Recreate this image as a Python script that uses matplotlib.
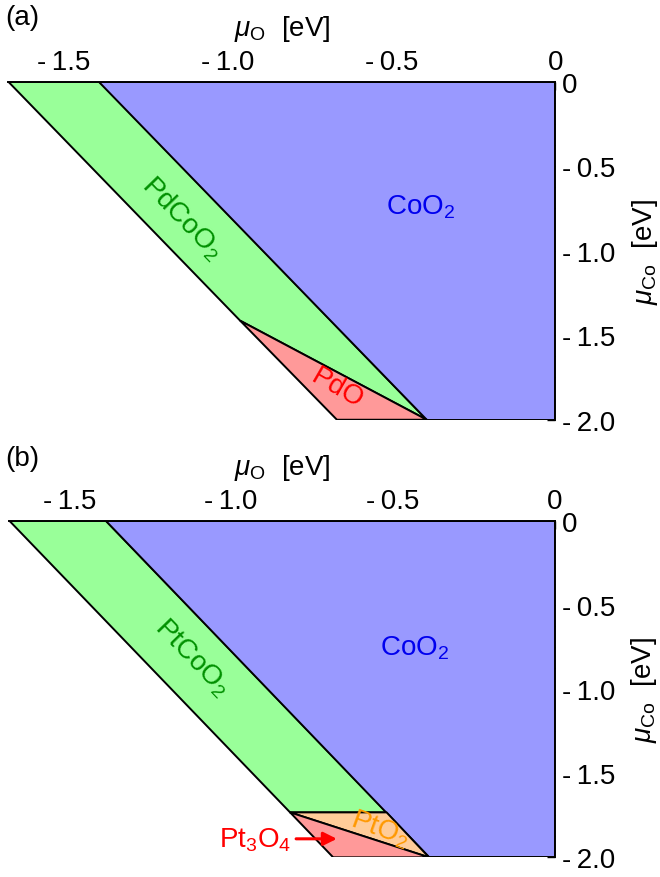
import matplotlib
matplotlib.use('Agg')
import matplotlib.pyplot as plt
from matplotlib.patches import Polygon
from matplotlib.ticker import MultipleLocator, FixedLocator

plt.rcParams['font.family'] = ['Liberation Sans', 'DejaVu Sans']
plt.rcParams['mathtext.fontset'] = 'custom'
plt.rcParams['mathtext.rm'] = 'Liberation Sans'
plt.rcParams['mathtext.it'] = 'Liberation Sans:italic'

GREEN = '#99ff99'
BLUE = '#9999ff'
RED = '#ff9999'
ORANGE = '#ffcc99'

# panel (a): Pd
a_xmin = -1.668
a_green_x = [-1.668, -1.39, -0.392, -0.961]
a_green_y = [0.0, 0.0, -2.0, -1.414]
a_blue_x = [-1.39, 0.0, 0.0, -0.392]
a_blue_y = [0.0, 0.0, -2.0, -2.0]
a_red_x = [-0.961, -0.392, -0.666]
a_red_y = [-1.414, -2.0, -2.0]

# panel (b): Pt
b_xmin = -1.685
b_green_x = [-1.685, -1.387, -0.520, -0.818]
b_green_y = [0.0, 0.0, -1.733, -1.733]
b_blue_x = [-1.387, 0.0, 0.0, -0.389]
b_blue_y = [0.0, 0.0, -2.0, -2.0]
b_orange_x = [-0.818, -0.520, -0.389]
b_orange_y = [-1.733, -1.733, -2.0]
b_red_x = [-0.818, -0.389, -0.685]
b_red_y = [-1.733, -2.0, -2.0]

x_ticks = [-1.5, -1.0, -0.5, 0.0]
x_labels = ['-\u20091.5', '-\u20091.0', '-\u20090.5', '0']
y_ticks = [0.0, -0.5, -1.0, -1.5, -2.0]
y_labels = ['0', '-\u20090.5', '-\u20091.0', '-\u20091.5', '-\u20092.0']

FS = 20


def poly(ax, xs, ys, color):
    ax.add_patch(Polygon(list(zip(xs, ys)), closed=True, facecolor=color,
                         edgecolor='black', lw=1.4, zorder=2))


def setup(ax, xmin):
    ax.set_xlim(xmin, 0)
    ax.set_ylim(-2.0, 0)
    ax.spines['left'].set_visible(False)
    ax.spines['bottom'].set_visible(False)
    ax.spines['top'].set_linewidth(1.4)
    ax.spines['right'].set_linewidth(1.4)
    ax.xaxis.tick_top()
    ax.yaxis.tick_right()
    ax.xaxis.set_label_position('top')
    ax.yaxis.set_label_position('right')
    ax.xaxis.set_major_locator(FixedLocator(x_ticks))
    ax.set_xticklabels(x_labels)
    ax.yaxis.set_major_locator(FixedLocator(y_ticks))
    ax.set_yticklabels(y_labels)
    ax.xaxis.set_minor_locator(MultipleLocator(0.1))
    ax.yaxis.set_minor_locator(MultipleLocator(0.125))
    ax.tick_params(which='both', direction='in', top=True, right=True,
                   bottom=False, left=False, labelsize=FS, width=1)
    ax.tick_params(which='major', length=6, pad=5)
    ax.tick_params(which='minor', length=4)
    ax.set_xlabel(r'$\mu_{\mathrm{O}}$  [eV]', fontsize=FS, labelpad=10)
    ax.set_ylabel(r'$\mu_{\mathrm{Co}}$  [eV]', fontsize=FS, labelpad=10)


fig = plt.figure(figsize=(6.6, 8.78), dpi=100)
ax1 = fig.add_axes([0.0126, 0.5208, 0.8288, 0.385])
ax2 = fig.add_axes([0.0141, 0.0224, 0.8268, 0.3834])

poly(ax1, a_green_x, a_green_y, GREEN)
poly(ax1, a_blue_x, a_blue_y, BLUE)
poly(ax1, a_red_x, a_red_y, RED)
setup(ax1, a_xmin)
ax1.text(-1.138, -0.80, r'PdCoO$_2$', color='#009000', fontsize=FS,
         rotation=-46, ha='center', va='center', zorder=3)
ax1.text(-0.412, -0.735, r'CoO$_2$', color='#0000ee', fontsize=FS,
         ha='center', va='center', zorder=3)
ax1.text(-0.666, -1.81, 'PdO', color='#ff0000', fontsize=FS,
         rotation=-30, ha='center', va='center', zorder=3)

poly(ax2, b_green_x, b_green_y, GREEN)
poly(ax2, b_blue_x, b_blue_y, BLUE)
poly(ax2, b_orange_x, b_orange_y, ORANGE)
poly(ax2, b_red_x, b_red_y, RED)
setup(ax2, b_xmin)
ax2.text(-1.121, -0.81, r'PtCoO$_2$', color='#009000', fontsize=FS,
         rotation=-46, ha='center', va='center', zorder=3)
ax2.text(-0.433, -0.75, r'CoO$_2$', color='#0000ee', fontsize=FS,
         ha='center', va='center', zorder=3)
ax2.text(-0.541, -1.83, r'PtO$_2$', color='#ff9900', fontsize=FS,
         rotation=-20, ha='center', va='center', zorder=3)
ax2.text(-0.813, -1.89, r'Pt$_3$O$_4$', color='#ff0000', fontsize=FS,
         ha='right', va='center', zorder=3)
ax2.annotate('', xy=(-0.665, -1.89), xytext=(-0.808, -1.89),
             arrowprops=dict(arrowstyle='-|>', color='#ff0000', lw=2.2,
                             mutation_scale=20), zorder=3)

fig.text(0.008, 0.980, '(a)', fontsize=FS, ha='left', va='center')
fig.text(0.008, 0.477, '(b)', fontsize=FS, ha='left', va='center')

fig.savefig('out.png', dpi=100)
